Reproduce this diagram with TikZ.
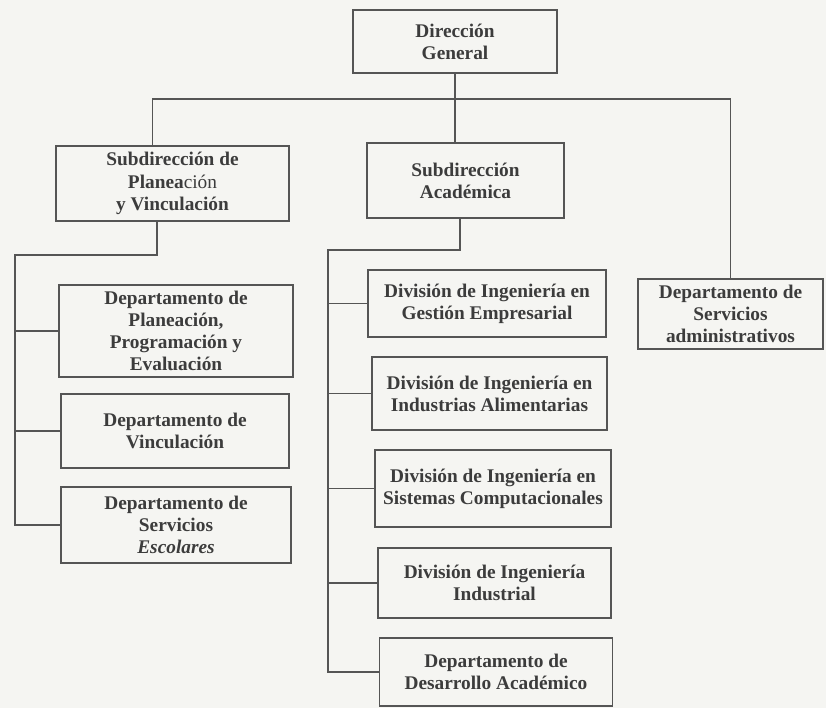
\documentclass[tikz,border=0pt]{standalone}
\usepackage{fontspec}
\setmainfont{Liberation Serif}
\usepackage{tikz}
\definecolor{paper}{HTML}{F5F5F2}
\definecolor{ink}{HTML}{3C3C3C}
\definecolor{rule}{HTML}{555555}
\tikzset{
    every node/.style={rectangle, draw=rule, line width=0.8pt, align=center,
    	text=ink, font=\fontsize{11}{12.6}\selectfont\bfseries, inner sep=2pt}
}
\tikzset{
    link/.style={draw=rule, line width=0.6pt}
}

\begin{document}
\begin{tikzpicture}
	\fill[paper] (0cm, 0cm) rectangle (16.52cm, -14.16cm);
	\useasboundingbox (0cm, 0cm) rectangle (16.52cm, -14.16cm);

	\node (dir) [minimum width=4.08cm, minimum height=1.26cm] at (9.10cm, -0.83cm) {Dirección\\General};
	\node (subP) [minimum width=4.66cm, minimum height=1.50cm] at (3.45cm, -3.67cm) {Subdirección de\\Planea\textmd{ción}\\y Vinculación};
	\node (subA) [minimum width=3.94cm, minimum height=1.50cm] at (9.31cm, -3.61cm) {Subdirección\\Académica};
	\node (serv) [minimum width=3.70cm, minimum height=1.40cm] at (14.61cm, -6.28cm) {Departamento de\\Servicios\\administrativos};

	\node (dPPE) [minimum width=4.68cm, minimum height=1.84cm] at (3.52cm, -6.62cm) {Departamento de\\Planeación,\\Programación y\\Evaluación};
	\node (dVinc) [minimum width=4.56cm, minimum height=1.48cm] at (3.50cm, -8.62cm) {Departamento de\\Vinculación};
	\node (dEsc) [minimum width=4.60cm, minimum height=1.52cm] at (3.52cm, -10.50cm) {Departamento de\\Servicios\\\textit{Escolares}};

	\node (dGE) [minimum width=4.76cm, minimum height=1.34cm] at (9.74cm, -6.07cm) {División de Ingeniería en\\Gestión Empresarial};
	\node (dIA) [minimum width=4.70cm, minimum height=1.46cm] at (9.79cm, -7.87cm) {División de Ingeniería en\\Industrias Alimentarias};
	\node (dSC) [minimum width=4.72cm, minimum height=1.54cm] at (9.86cm, -9.77cm) {División de Ingeniería en\\Sistemas Computacionales};
	\node (dII) [minimum width=4.66cm, minimum height=1.40cm] at (9.89cm, -11.66cm) {División de Ingeniería\\Industrial};
	\node (dDA) [minimum width=4.66cm, minimum height=1.36cm] at (9.92cm, -13.44cm) {Departamento de\\Desarrollo Académico};

	\coordinate (bus) at (9.10cm, -1.98cm);
	\coordinate (spineP) at (0.30cm, -5.10cm);
	\coordinate (spineA) at (6.56cm, -5.00cm);

	\draw[link] (dir.south) -- (dir.south |- subA.north);
	\draw[link] ([xshift=-0.4cm]subP.north) |- (bus) -| (serv.north);

	\draw[link] ([xshift=-0.31cm]subP.south) |- (spineP) |- (dEsc.west);
	\foreach \n in {dPPE, dVinc}
		\draw[link] (spineP |- \n.west) -- (\n.west);

	\draw[link] ([xshift=-0.11cm]subA.south) |- (spineA) |- (dDA.west);
	\foreach \n in {dGE, dIA, dSC, dII}
		\draw[link] (spineA |- \n.west) -- (\n.west);
\end{tikzpicture}
\end{document}
